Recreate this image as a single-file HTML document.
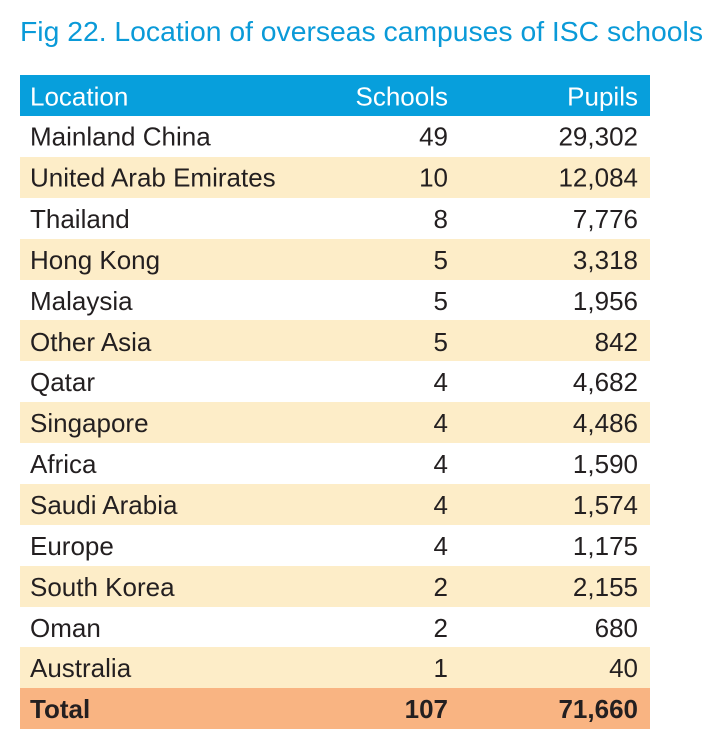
<!DOCTYPE html>
<html><head><meta charset="utf-8"><style>
html,body{margin:0;padding:0;background:#fff;}
svg{display:block;}
text{font-family:"Liberation Sans",sans-serif;fill:#231f20;font-size:25px;}
.h{fill:#fff;}
.b{font-weight:bold;}
</style></head><body>
<svg width="710" height="732" viewBox="0 0 710 732" xmlns="http://www.w3.org/2000/svg">
<text x="20" y="41" style="fill:#0a9ad8;font-size:28px" textLength="683" lengthAdjust="spacingAndGlyphs">Fig 22. Location of overseas campuses of ISC schools</text>
<rect x="20" y="75" width="630" height="41" fill="#079fdc"/>
<rect x="20" y="157" width="630" height="41" fill="#fdedc8"/>
<rect x="20" y="239" width="630" height="41" fill="#fdedc8"/>
<rect x="20" y="320" width="630" height="41" fill="#fdedc8"/>
<rect x="20" y="402" width="630" height="41" fill="#fdedc8"/>
<rect x="20" y="484" width="630" height="41" fill="#fdedc8"/>
<rect x="20" y="566" width="630" height="41" fill="#fdedc8"/>
<rect x="20" y="647" width="630" height="41" fill="#fdedc8"/>
<rect x="20" y="688" width="630" height="41" fill="#f9b482"/>
<g transform="translate(30,0) scale(1.04,1.04)">
<text class="h" x="0" y="101.5">Location</text>
<text x="0" y="140">Mainland China</text>
<text x="0" y="179.5">United Arab Emirates</text>
<text x="0" y="219">Thailand</text>
<text x="0" y="258.5">Hong Kong</text>
<text x="0" y="298">Malaysia</text>
<text x="0" y="337.5">Other Asia</text>
<text x="0" y="376">Qatar</text>
<text x="0" y="415.5">Singapore</text>
<text x="0" y="455">Africa</text>
<text x="0" y="494">Saudi Arabia</text>
<text x="0" y="533.5">Europe</text>
<text x="0" y="573">South Korea</text>
<text x="0" y="612.5">Oman</text>
<text x="0" y="651">Australia</text>
<text class="b" x="0" y="690.5">Total</text>
</g>
<g transform="translate(448,0) scale(1.04,1.04)" text-anchor="end">
<text class="h" x="0" y="101.5">Schools</text>
<text x="0" y="140">49</text><text x="0" y="179.5">10</text><text x="0" y="219">8</text><text x="0" y="258.5">5</text>
<text x="0" y="298">5</text><text x="0" y="337.5">5</text><text x="0" y="376">4</text><text x="0" y="415.5">4</text>
<text x="0" y="455">4</text><text x="0" y="494">4</text><text x="0" y="533.5">4</text><text x="0" y="573">2</text>
<text x="0" y="612.5">2</text><text x="0" y="651">1</text><text class="b" x="0" y="690.5">107</text>
</g>
<g transform="translate(638,0) scale(1.04,1.04)" text-anchor="end">
<text class="h" x="0" y="101.5">Pupils</text>
<text x="0" y="140">29,302</text><text x="0" y="179.5">12,084</text><text x="0" y="219">7,776</text><text x="0" y="258.5">3,318</text>
<text x="0" y="298">1,956</text><text x="0" y="337.5">842</text><text x="0" y="376">4,682</text><text x="0" y="415.5">4,486</text>
<text x="0" y="455">1,590</text><text x="0" y="494">1,574</text><text x="0" y="533.5">1,175</text><text x="0" y="573">2,155</text>
<text x="0" y="612.5">680</text><text x="0" y="651">40</text><text class="b" x="0" y="690.5">71,660</text>
</g>
</svg>
</body></html>
